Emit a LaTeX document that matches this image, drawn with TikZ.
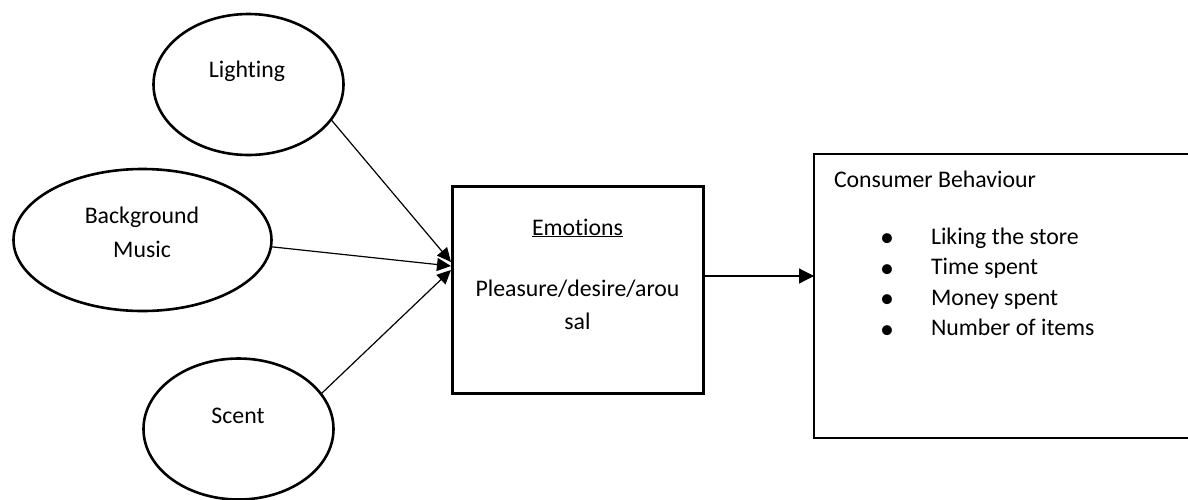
\documentclass[tikz,border=0pt]{standalone}
\usepackage{fontspec}
\setmainfont{Carlito}[Ligatures=NoCommon]
\usetikzlibrary{arrows.meta,shapes.geometric}
\begin{document}
\begin{tikzpicture}[x=1pt,y=-1pt,
  every node/.style={font=\fontsize{23.8}{33}\selectfont, inner sep=0pt, outer sep=0pt},
  oval/.style={draw, ellipse, line width=2.6pt},
  txt/.style={anchor=base},
  itemtxt/.style={anchor=base west},
  bul/.style={anchor=base, font=\fontsize{28}{28}\selectfont},
  conn/.style={line width=1.2pt, -{Triangle[length=14pt,width=13pt]}},
  conn2/.style={line width=1.2pt, -{Triangle[length=15pt,width=15pt]}},
]
\useasboundingbox (0,0) rectangle (1188,499);
\clip (0,0) rectangle (1188,499);
% ellipses
\node[oval, minimum width=190pt, minimum height=141pt] (light) at (248.5,84.5) {};
\node[oval, minimum width=258pt, minimum height=142pt] (music) at (142.5,240) {};
\node[oval, minimum width=190pt, minimum height=141pt] (scent) at (238.5,429) {};
% boxes
\node[draw, line width=3pt, minimum width=251pt, minimum height=207pt] (emo) at (577.5,289.5) {};
\node[draw, line width=1.8pt, minimum width=400pt, minimum height=284pt] (cons) at (1014,296) {};
% texts
\node[txt] (tlight) at (247,77) {Lighting};
\node[txt] (tbg) at (142,223) {Background};
\node[txt] (tmus) at (142,257) {Music};
\node[txt] (tscent) at (238,423) {Scent};
\node[txt] (temo) at (577.5,235) {\underline{Emotions}};
\node[txt] (tp1) at (577.5,296) {Pleasure/desire/arou};
\node[txt] (tp2) at (577.5,329) {sal};
\node[itemtxt] (tcb) at (834,187) {Consumer Behaviour};
\node[bul] (b1) at (887,246.5) {•};
\node[bul] (b2) at (887,277) {•};
\node[bul] (b3) at (887,307.5) {•};
\node[bul] (b4) at (887,338) {•};
\node[itemtxt] (i1) at (931,244) {Liking the store};
\node[itemtxt] (i2) at (931,274.5) {Time spent};
\node[itemtxt] (i3) at (931,305) {Money spent};
\node[itemtxt] (i4) at (931,335.5) {Number of items};
% connectors
\coordinate (tipL) at (451,262);
\coordinate (tipM) at (451,266);
\coordinate (tipS) at (451,270);
\coordinate (ay) at (0,276);
\draw[conn] (light.-23) -- (tipL);
\draw[conn] (music.-3.5) -- (tipM);
\draw[conn] (scent.23.5) -- (tipS);
\draw[conn2] (emo.east |- ay) -- (cons.west |- ay);
\end{tikzpicture}
\end{document}
